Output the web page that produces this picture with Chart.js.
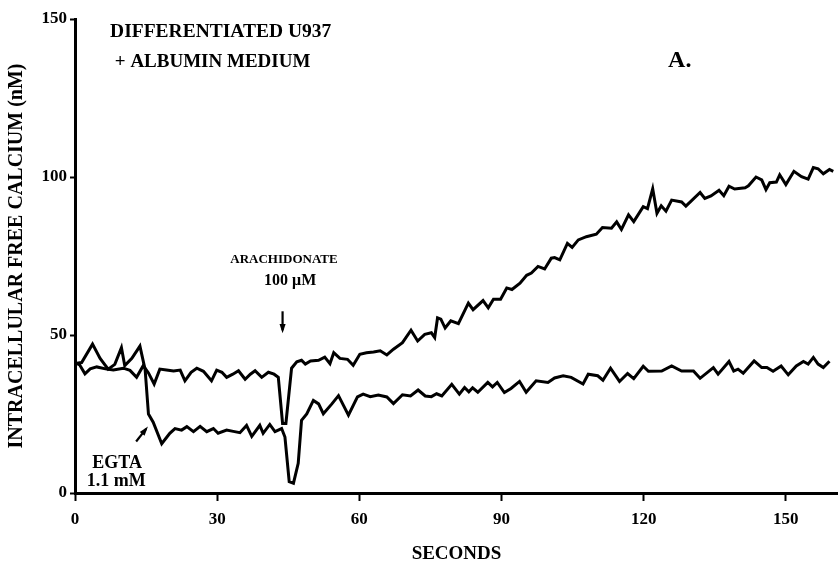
<!DOCTYPE html>
<html>
<head>
<meta charset="utf-8">
<title>Intracellular free calcium, differentiated U937</title>
<script src="https://cdn.jsdelivr.net/npm/chart.js@4.4.1/dist/chart.umd.min.js"></script>
<style>
  html, body { margin: 0; padding: 0; background: #fff; }
  #wrap { width: 838px; height: 569px; }
</style>
</head>
<body>
<div id="wrap"><canvas id="calciumChart" width="838" height="569"></canvas></div>
<script>
// Trace without EGTA (rises after arachidonate)
const controlSeconds = [0, 1, 2.1, 3.2, 4.6, 6.7, 8.1, 10.2, 11.6, 13, 14.4, 15.5, 16.7, 17.9, 19.3, 20.8, 22.2, 23.2, 24.5, 25.7,
  27.1, 28.8, 29.9, 31, 32, 33.3, 34.5, 35.9, 37, 38, 39.4, 40.8, 42, 42.9, 43.8, 44.5, 45.7, 46.8, 47.8, 48.6,
  49.7, 51.4, 52.7, 53.8, 54.6, 55.9, 57.5, 58.7, 60.1, 61.5, 63, 64.4, 65.8, 67.2, 69.1, 70.9, 72.3, 73.8, 75.2, 75.9,
  76.5, 77.2, 78.1, 79.3, 80.9, 83, 84, 86.1, 87.2, 88.3, 89.8, 91.1, 92.2, 93.9, 95.3, 96.3, 97.7, 99.1, 100.5, 101.2,
  102.3, 103.9, 104.9, 106.2, 107.9, 110, 111.3, 113.2, 114.3, 115.3, 116.8, 117.9, 119.9, 120.8, 121.9, 122.8, 123.7, 124.7, 125.9, 128,
  128.9, 131.9, 132.9, 134.2, 135.9, 136.9, 138, 139.2, 141.4, 142.1, 143.7, 144.9, 145.8, 146.6, 148, 148.7, 150, 151.7, 153.3, 154.7,
  155.8, 156.8, 157.9, 159.2, 160];
const controlCalcium = [41.3, 40.5, 37.7, 39.3, 39.9, 39.2, 38.9, 39.5, 38.8, 36.6, 40.3, 38, 34.5, 39.2, 38.9, 38.6, 38.9, 35.5, 38.2, 39.5,
  38.5, 35.5, 38.9, 38.2, 36.6, 37.6, 38.7, 36, 37.6, 38.7, 36.6, 38.2, 37.6, 36.6, 22, 22, 39.5, 41.5, 42, 40.8,
  41.8, 42, 43, 40.9, 44.4, 42.6, 42.3, 40.4, 43.9, 44.4, 44.6, 45, 43.7, 45.5, 47.6, 51.5, 48.1, 50.2, 50.7, 49.2,
  55.4, 55, 52.2, 54.5, 53.6, 60.1, 58, 60.9, 58.6, 61.3, 61.3, 64.9, 64.4, 66.4, 68.9, 69.6, 71.7, 70.9, 74.3, 74.5,
  73.8, 79, 77.7, 80.1, 81.1, 81.9, 84, 83.8, 85.8, 83.4, 88, 85.9, 90.6, 90, 96.3, 88.5, 90.9, 89.2, 92.7, 92.1,
  90.8, 95.1, 93.2, 94, 95.8, 94.1, 97.1, 96.2, 96.6, 97.2, 100, 99.1, 96, 98.2, 98.4, 100.7, 97.6, 101.8, 100.1, 99.3,
  103, 102.6, 101, 102.4, 101.8];

// Trace with EGTA 1.1 mM added at ~15 s
const egtaSeconds = [0, 1.4, 3.7, 5.3, 7, 8.4, 9.8, 10.5, 12, 13.7, 14.8, 15.5, 16.5, 18.3, 20, 21.1, 22.5, 23.6, 25, 26.4,
  27.8, 29.2, 30.2, 32, 33.4, 34.8, 36.2, 37.3, 39, 39.7, 41.1, 42.2, 43.6, 44.3, 45.2, 46.1, 47.1, 47.8, 48.9, 50.3,
  51.4, 52.4, 54.2, 55.6, 57.7, 59.6, 60.8, 62.3, 64, 65.8, 67.2, 69.1, 70.8, 72.4, 73.9, 75.2, 76.3, 77.4, 79.5, 81.1,
  82.2, 83.1, 83.9, 85, 87.1, 88.1, 89.1, 90.6, 92, 93.8, 95.2, 97.3, 99.8, 101.2, 103, 104.7, 107.2, 108.3, 110.3, 111.4,
  113, 114.9, 116.6, 117.9, 119.9, 121, 123.8, 125.9, 128, 130.5, 131.9, 134.7, 135.7, 138, 139, 139.9, 141, 143.3, 144.9, 146,
  147.3, 149, 150.5, 152.2, 153.7, 154.7, 155.8, 156.8, 157.9, 159.2];
const egtaCalcium = [41, 41.3, 47.1, 42.6, 39.2, 40.7, 46, 40.3, 42.6, 46.5, 39, 25, 22.4, 15.6, 18.9, 20.4, 19.9, 21, 19.4, 21.1,
  19.4, 20.4, 18.9, 19.9, 19.5, 19.1, 21.4, 17.9, 21.4, 18.9, 21.7, 19.4, 20.4, 17.7, 3.6, 3.1, 9.4, 23, 25, 29.3,
  28.2, 25.1, 28.2, 30.8, 24.6, 30.4, 31.3, 30.5, 31, 30.4, 28.3, 31.1, 30.7, 32.6, 30.7, 30.5, 31.4, 30.7, 34.4, 31.3,
  33.4, 32, 33.3, 31.9, 35, 33.6, 35, 31.8, 33.1, 35.3, 31.9, 35.5, 35, 36.4, 37.1, 36.6, 34.5, 37.6, 37.1, 35.7,
  39.5, 35.3, 37.8, 36.2, 40.1, 38.5, 38.6, 40.2, 38.6, 38.6, 36.3, 39.7, 37.6, 41.6, 38.6, 39.2, 37.9, 41.8, 39.7, 39.7,
  38.5, 40.2, 37.4, 40.2, 41.6, 40.8, 42.9, 40.8, 39.7, 41.7];

const secondTicks = [0, 30, 60, 90, 120, 150];
const calciumTicks = [0, 50, 100, 150];

const toPoints = (xs, ys) => xs.map((x, i) => ({ x: x, y: ys[i] }));

const FONT = "'Liberation Serif', 'DejaVu Serif', serif";
Chart.defaults.font.family = FONT;
Chart.defaults.font.weight = 'bold';
Chart.defaults.color = '#000';

// Labels and arrows placed in data coordinates
const notes = {
  id: 'notes',
  afterDatasetsDraw(chart) {
    const { ctx, scales: { x, y } } = chart;
    const px = (s) => x.getPixelForValue(s);
    const py = (c) => y.getPixelForValue(c);
    ctx.save();
    ctx.fillStyle = '#000';
    ctx.strokeStyle = '#000';
    ctx.textBaseline = 'middle';

    const text = (str, s, c, size, align) => {
      ctx.font = 'bold ' + size + 'px ' + FONT;
      ctx.textAlign = align;
      ctx.fillText(str, px(s), py(c));
    };
    const arrow = (s0, c0, s1, c1) => {
      const x0 = px(s0), y0 = py(c0), x1 = px(s1), y1 = py(c1);
      const a = Math.atan2(y1 - y0, x1 - x0);
      ctx.lineWidth = 2.2;
      ctx.beginPath();
      ctx.moveTo(x0, y0);
      ctx.lineTo(x1, y1);
      ctx.stroke();
      ctx.beginPath();
      ctx.moveTo(x1 + Math.cos(a) * 3, y1 + Math.sin(a) * 3);
      ctx.lineTo(x1 - Math.cos(a - 0.45) * 7, y1 - Math.sin(a - 0.45) * 7);
      ctx.lineTo(x1 - Math.cos(a + 0.45) * 7, y1 - Math.sin(a + 0.45) * 7);
      ctx.closePath();
      ctx.fill();
    };

    text('DIFFERENTIATED U937', 7.4, 146, 19.5, 'left');
    text('+ ALBUMIN MEDIUM', 8.4, 136.4, 19, 'left');
    text('A.', 127.6, 136.7, 24, 'center');

    text('ARACHIDONATE', 44.1, 73.7, 13, 'center');
    text('100 \u03bcM', 45.4, 67, 16, 'center');
    arrow(43.8, 57.5, 43.8, 51.5);

    arrow(12.9, 16.3, 15.0, 20.3);
    text('EGTA', 8.9, 9.5, 18, 'center');
    text('1.1 mM', 8.7, 3.8, 18, 'center');
    ctx.restore();
  }
};

new Chart(document.getElementById('calciumChart'), {
  type: 'line',
  data: {
    datasets: [
      {
        label: 'Albumin medium',
        data: toPoints(controlSeconds, controlCalcium),
        borderColor: '#000',
        borderWidth: 3,
        pointRadius: 0,
        tension: 0,
        fill: false
      },
      {
        label: 'EGTA 1.1 mM',
        data: toPoints(egtaSeconds, egtaCalcium),
        borderColor: '#000',
        borderWidth: 3,
        pointRadius: 0,
        tension: 0,
        fill: false
      }
    ]
  },
  options: {
    responsive: false,
    animation: false,
    layout: { padding: { top: 19, right: 0, left: 0, bottom: 0 } },
    plugins: {
      legend: { display: false },
      tooltip: { enabled: false }
    },
    scales: {
      x: {
        type: 'linear',
        min: 0,
        max: 161,
        afterBuildTicks: (scale) => { scale.ticks = secondTicks.map(v => ({ value: v })); },
        afterFit: (scale) => { scale.height = 76; },
        border: { display: true, color: '#000', width: 3 },
        grid: { drawOnChartArea: false, drawTicks: true, tickLength: 8, tickWidth: 2, tickColor: '#000' },
        ticks: { padding: 8, font: { size: 17, weight: 'bold' }, maxRotation: 0 },
        title: {
          display: true,
          text: 'SECONDS',
          font: { size: 19, weight: 'bold' },
          padding: { top: 0, bottom: 4 }
        }
      },
      y: {
        min: 0,
        max: 150,
        afterBuildTicks: (scale) => { scale.ticks = calciumTicks.map(v => ({ value: v })); },
        afterFit: (scale) => { scale.width = 75; },
        border: { display: true, color: '#000', width: 3 },
        grid: { drawOnChartArea: false, drawTicks: true, tickLength: 5, tickWidth: 2, tickColor: '#000' },
        ticks: { padding: 3, font: { size: 17, weight: 'bold' } },
        title: {
          display: true,
          text: 'INTRACELLULAR FREE CALCIUM (nM)',
          font: { size: 20, weight: 'bold' },
          padding: { top: 5, bottom: 0 }
        }
      }
    }
  },
  plugins: [notes]
});
</script>
</body>
</html>
